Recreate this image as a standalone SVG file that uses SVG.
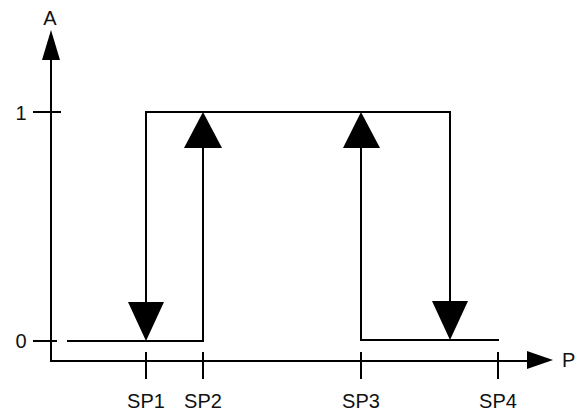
<svg xmlns="http://www.w3.org/2000/svg" width="586" height="412" viewBox="0 0 586 412">
<style>
.ln{stroke:#000;stroke-width:2;fill:none}
.ah{fill:#000}
text{font-family:"Liberation Sans",Arial,sans-serif;font-size:20px;fill:#111}
.m{text-anchor:middle}
</style>
<rect width="586" height="412" fill="#fff"/>
<g id="axes">
<line class="ln" x1="51" y1="55" x2="51" y2="361"/>
<polygon class="ah" points="51,30 42,60 60,60"/>
<line class="ln" x1="50" y1="361" x2="530" y2="361"/>
<polygon class="ah" points="553,360 527,351 527,369"/>
<line class="ln" x1="33" y1="112" x2="61" y2="112"/>
<line class="ln" x1="33" y1="341" x2="57" y2="341"/>
<line class="ln" x1="146" y1="352" x2="146" y2="379"/>
<line class="ln" x1="203" y1="352" x2="203" y2="379"/>
<line class="ln" x1="361" y1="352" x2="361" y2="379"/>
<line class="ln" x1="498" y1="352" x2="498" y2="379"/>
</g>
<g id="labels">
<text class="m" x="50" y="25">A</text>
<text class="m" x="21" y="120">1</text>
<text class="m" x="21" y="348">0</text>
<text x="562" y="367">P</text>
<text class="m" x="146" y="408">SP1</text>
<text class="m" x="203" y="408">SP2</text>
<text class="m" x="361" y="408">SP3</text>
<text class="m" x="498" y="408">SP4</text>
</g>
<g id="connectors">
<polyline class="ln" points="67,341 203,341 203,140"/>
<polygon class="ah" points="203,112 184,148 222,148"/>
<polyline class="ln" points="146,310 146,112 450,112 450,310"/>
<polygon class="ah" points="146,341 128,302 164,302"/>
<polygon class="ah" points="450,340 432,301 468,301"/>
<polyline class="ln" points="499,340 361,340 361,140"/>
<polygon class="ah" points="361,112 343,148 380,148"/>
</g>
</svg>
